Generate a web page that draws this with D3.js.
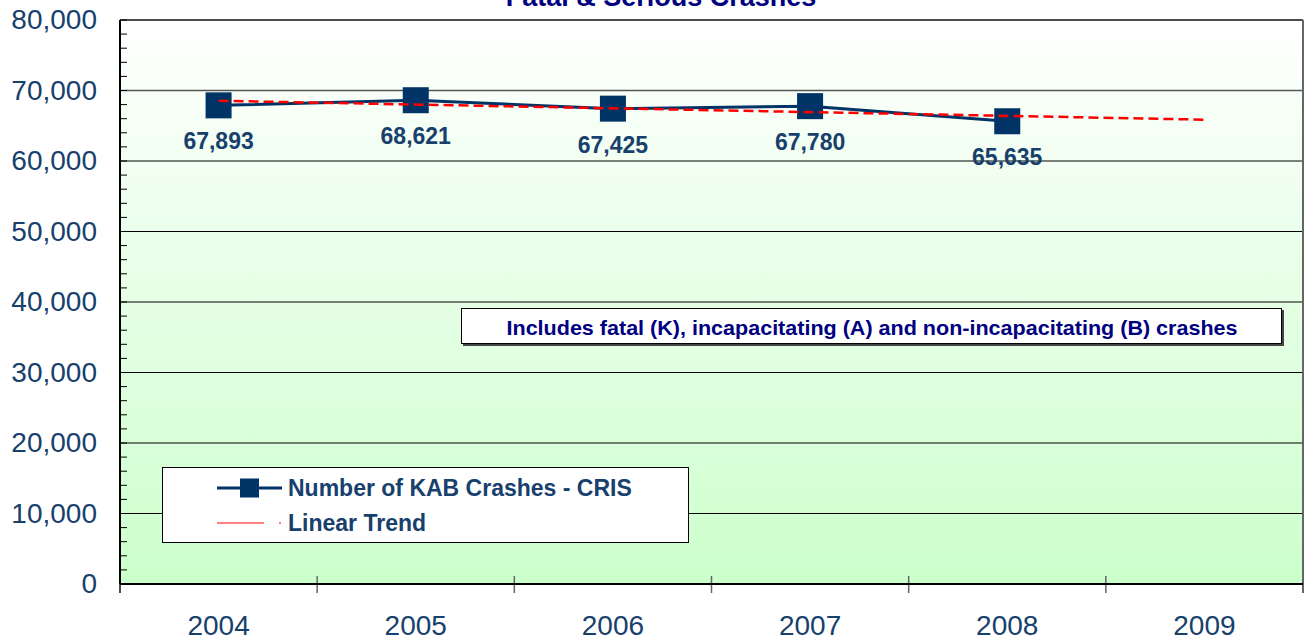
<!DOCTYPE html>
<html>
<head>
<meta charset="utf-8">
<script src="https://cdn.jsdelivr.net/npm/d3@7"></script>
<style>
  body { margin: 0; background: #fff; }
  svg { display: block; font-family: Arial, "Liberation Sans", sans-serif; }
</style>
</head>
<body>
<svg id="chart" width="1306" height="640"></svg>
<script>
// data
var years = ["2004", "2005", "2006", "2007", "2008", "2009"];
var crashYears = ["2004", "2005", "2006", "2007", "2008"];
var crashes = [67893, 68621, 67425, 67780, 65635];
var yTicks = [0, 10000, 20000, 30000, 40000, 50000, 60000, 70000, 80000];

var svg = d3.select("#chart");
var plotL = 120, plotR = 1303, plotT = 20, plotB = 584;
var navy = "#003366";
var labelColor = "#17406d";

var x = d3.scaleBand().domain(years).range([plotL, plotR]).padding(0);
var y = d3.scaleLinear().domain([0, 80000]).range([plotB, plotT]);
var cx = function(yr) { return x(yr) + x.bandwidth() / 2; };

// background gradient
var defs = svg.append("defs");
var grad = defs.append("linearGradient").attr("id", "bg")
  .attr("x1", 0).attr("y1", 0).attr("x2", 0).attr("y2", 1);
grad.append("stop").attr("offset", "0%").attr("stop-color", "#ffffff");
grad.append("stop").attr("offset", "100%").attr("stop-color", "#ccffcc");

svg.append("rect")
  .attr("x", plotL).attr("y", plotT)
  .attr("width", plotR - plotL).attr("height", plotB - plotT)
  .attr("fill", "url(#bg)");

// gridlines
svg.append("g").selectAll("line")
  .data(yTicks.filter(function(d) { return d > 0; }))
  .enter().append("line")
  .attr("x1", plotL).attr("x2", plotR)
  .attr("y1", function(d) { return y(d); }).attr("y2", function(d) { return y(d); })
  .attr("stroke", function(d) { return d === 80000 ? "#111" : (d === 70000 ? "#555" : "#000"); })
  .attr("stroke-width", function(d) { return d >= 70000 ? 1.6 : 1; });

// right border
svg.append("line")
  .attr("x1", plotR).attr("x2", plotR).attr("y1", plotT).attr("y2", plotB + 9)
  .attr("stroke", "#666").attr("stroke-width", 2);

// y axis
var yAxis = d3.axisLeft(y).tickValues(yTicks).tickSize(0).tickPadding(23)
  .tickFormat(d3.format(","));
var gy = svg.append("g").attr("transform", "translate(" + plotL + ",0)").call(yAxis);
gy.select(".domain").remove();
gy.selectAll("text")
  .attr("font-size", 28).attr("fill", labelColor)
  .attr("font-family", "Arial, 'Liberation Sans', sans-serif");

// minor ticks inside
svg.append("g").selectAll("line")
  .data(d3.range(0, 80001, 2000))
  .enter().append("line")
  .attr("x1", plotL).attr("x2", plotL + 7)
  .attr("y1", function(d) { return y(d); }).attr("y2", function(d) { return y(d); })
  .attr("stroke", "#000").attr("stroke-width", 1);

svg.append("line")
  .attr("x1", plotL).attr("x2", plotL).attr("y1", plotT).attr("y2", plotB + 9)
  .attr("stroke", "#000").attr("stroke-width", 2);

// x axis
var gx = svg.append("g").attr("transform", "translate(0," + plotB + ")");
gx.selectAll("line.tk")
  .data(years.map(function(d) { return x(d); }).concat([plotR]))
  .enter().append("line").attr("class", "tk")
  .attr("x1", function(d) { return d; }).attr("x2", function(d) { return d; })
  .attr("y1", function(d) { return d === plotL ? 0 : -8; }).attr("y2", 9)
  .attr("stroke", "#666").attr("stroke-width", 1.5);
gx.append("line").attr("x1", plotL).attr("x2", plotR).attr("y1", 0).attr("y2", 0)
  .attr("stroke", "#000").attr("stroke-width", 2);
gx.selectAll("text")
  .data(years).enter().append("text")
  .attr("x", cx).attr("y", 51)
  .attr("text-anchor", "middle")
  .attr("font-size", 28).attr("fill", labelColor)
  .text(function(d) { return d; });

// title (clipped at top edge)
svg.append("text")
  .attr("x", 661).attr("y", 6)
  .attr("text-anchor", "middle")
  .attr("font-size", 27).attr("font-weight", "bold").attr("fill", "#000080")
  .text("Fatal & Serious Crashes");

// linear trend, least squares over the observed years, extended to 2009
var xi = crashes.map(function(d, i) { return i; });
var mx = d3.mean(xi), my = d3.mean(crashes);
var slope = d3.sum(xi, function(d, i) { return (d - mx) * (crashes[i] - my); }) /
  d3.sum(xi, function(d) { return (d - mx) * (d - mx); });
var trend = years.map(function(yr, i) { return { yr: yr, v: my + slope * (i - mx) }; });

var line = d3.line().x(function(d) { return cx(d.yr); }).y(function(d) { return y(d.v); });

var series = crashYears.map(function(yr, i) { return { yr: yr, v: crashes[i] }; });

svg.append("path").datum(series)
  .attr("d", line).attr("fill", "none")
  .attr("stroke", navy).attr("stroke-width", 3);

svg.selectAll("rect.mk").data(series).enter().append("rect").attr("class", "mk")
  .attr("x", function(d) { return cx(d.yr) - 13; })
  .attr("y", function(d) { return y(d.v) - 13; })
  .attr("width", 26).attr("height", 26)
  .attr("fill", navy);

svg.append("path").datum([trend[0], trend[trend.length - 1]])
  .attr("d", line).attr("fill", "none")
  .attr("stroke", "#ff0000").attr("stroke-width", 2.5)
  .attr("stroke-dasharray", "10,5");

svg.selectAll("text.dl").data(series).enter().append("text").attr("class", "dl")
  .attr("x", function(d) { return cx(d.yr); })
  .attr("y", function(d) { return y(d.v) + 44; })
  .attr("text-anchor", "middle")
  .attr("font-size", 23).attr("font-weight", "bold").attr("fill", labelColor)
  .text(function(d) { return d3.format(",")(d.v); });

// note box
svg.append("rect")
  .attr("x", 463).attr("y", 310).attr("width", 821).attr("height", 36)
  .attr("fill", "#444");
svg.append("rect")
  .attr("x", 461.5).attr("y", 308.5).attr("width", 820).attr("height", 35)
  .attr("fill", "#fff").attr("stroke", "#000").attr("stroke-width", 1);
svg.append("text")
  .attr("x", 872).attr("y", 335)
  .attr("text-anchor", "middle")
  .attr("font-size", 21).attr("font-weight", "bold").attr("fill", "#000080")
  .attr("textLength", 731).attr("lengthAdjust", "spacingAndGlyphs")
  .text("Includes fatal (K), incapacitating (A) and non-incapacitating (B) crashes");

// legend
var lg = svg.append("g");
lg.append("rect")
  .attr("x", 162.5).attr("y", 467.5).attr("width", 526).attr("height", 75)
  .attr("fill", "#fff").attr("stroke", "#000").attr("stroke-width", 1);
lg.append("line").attr("x1", 217).attr("x2", 282).attr("y1", 488).attr("y2", 488)
  .attr("stroke", navy).attr("stroke-width", 3);
lg.append("rect").attr("x", 240).attr("y", 478.5).attr("width", 19).attr("height", 19)
  .attr("fill", navy);
lg.append("line").attr("x1", 217).attr("x2", 282).attr("y1", 523).attr("y2", 523)
  .attr("stroke", "#ff5a5a").attr("stroke-width", 1.5)
  .attr("stroke-dasharray", "47,15,2,10");
lg.append("text").attr("x", 288).attr("y", 496)
  .attr("font-size", 23).attr("font-weight", "bold").attr("fill", labelColor)
  .text("Number of KAB Crashes - CRIS");
lg.append("text").attr("x", 288).attr("y", 531)
  .attr("font-size", 23).attr("font-weight", "bold").attr("fill", labelColor)
  .text("Linear Trend");
</script>
</body>
</html>
